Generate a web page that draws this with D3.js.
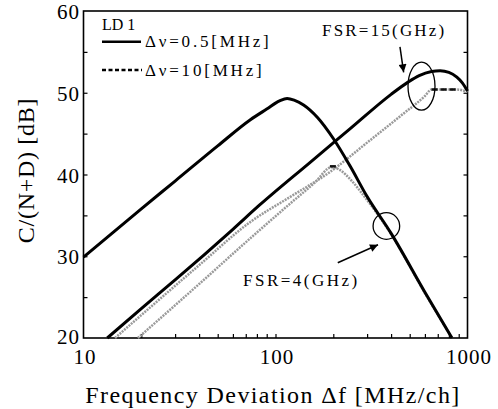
<!DOCTYPE html>
<html>
<head>
<meta charset="utf-8">
<script src="https://cdn.jsdelivr.net/npm/d3@7"></script>
<style>
  html, body { margin: 0; padding: 0; background: #fff; }
  svg { display: block; }
  svg text { font-family: "Liberation Serif", "Times New Roman", Times, "DejaVu Serif", serif; }
</style>
</head>
<body>
<svg id="chart" width="498" height="409"></svg>
<script>
// C/(N+D) versus frequency deviation, LD 1
// Δν = 0.5 MHz, FSR = 4 GHz
const a05Fsr4Freq = [10, 20, 30, 50, 74, 90, 105, 115, 125, 140, 165, 200, 245, 300, 400, 600, 830];
const a05Fsr4Cnd  = [29.9, 35.8, 39.2, 43.5, 46.7, 48.0, 49.0, 49.3, 49.1, 48.5, 47.0, 44.4, 41.0, 37.3, 32.8, 25.6, 20.0];
// Δν = 0.5 MHz, FSR = 15 GHz
const a05Fsr15Freq = [13.3, 20, 30, 60, 83, 150, 245, 400, 490, 560, 650, 720, 800, 880, 940, 1000];
const a05Fsr15Cnd  = [20.0, 23.6, 27.1, 33.3, 36.3, 41.4, 45.6, 49.8, 51.3, 52.1, 52.6, 52.7, 52.5, 51.9, 51.2, 50.2];
// Δν = 10 MHz, FSR = 15 GHz
const a10Fsr15Freq = [14.6, 20, 40, 74, 120, 192, 300, 450, 600, 650, 880, 1000];
const a10Fsr15Cnd  = [20.0, 22.8, 28.9, 34.2, 37.3, 40.3, 43.9, 47.2, 49.6, 50.4, 50.4, 50.1];
// Δν = 10 MHz, FSR = 4 GHz
const a10Fsr4Freq = [19.2, 40, 75.6, 120, 160, 196, 215, 250, 284, 320, 400, 600, 830];
const a10Fsr4Cnd  = [20.0, 26.6, 32.4, 36.5, 39.0, 40.9, 40.6, 39.2, 37.6, 36.0, 32.7, 25.5, 20.0];
// flat stretches printed in solid dashes on the Δν = 10 MHz curves
const flatFsr15Freq = [650, 880];
const flatFsr15Cnd  = [50.4, 50.4];
const flatFsr4Freq  = [192, 212];
const flatFsr4Cnd   = [41.0, 41.0];

// axes
const xDomain = [10, 1000];
const yDomain = [20, 60];
const xTickLabels = [10, 100, 1000];
const yTickLabels = [20, 30, 40, 50, 60];

const SERIF = "'Liberation Serif', 'Times New Roman', Times, 'DejaVu Serif', serif";
const svg = d3.select("#chart");
const mLeft = 83.5, mRight = 467.5, mTop = 11, mBottom = 338;

const x = d3.scaleLog().domain(xDomain).range([mLeft, mRight]);
const y = d3.scaleLinear().domain(yDomain).range([mBottom, mTop]);

const zip = (fs, vs) => fs.map((f, i) => [f, vs[i]]);
const line = d3.line().x(d => x(d[0])).y(d => y(d[1])).curve(d3.curveMonotoneX);
const straight = d3.line().x(d => x(d[0])).y(d => y(d[1]));

// minor ticks
const xMinor = [];
for (let dec = 10; dec < 1000; dec *= 10) for (let k = 2; k <= 9; k++) xMinor.push(k * dec);
const yMinor = d3.range(25, 60, 5);

const g = svg.append("g");
const txt = (sel) => sel.append("text").attr("font-family", SERIF).attr("fill", "#000");

// frame
g.append("rect")
  .attr("x", mLeft).attr("y", mTop)
  .attr("width", mRight - mLeft).attr("height", mBottom - mTop)
  .attr("fill", "none").attr("stroke", "#000").attr("stroke-width", 1.6);

// bottom axis: inward ticks
const xAxis = d3.axisBottom(x).tickValues(xMinor.concat([100])).tickSizeInner(-4).tickSizeOuter(0).tickFormat("");
g.append("g").attr("transform", `translate(0,${mBottom})`).call(xAxis)
  .call(s => s.select(".domain").remove())
  .call(s => s.selectAll("line").attr("stroke-width", 1.2));

// left and right axes: inward ticks
const yAxisL = d3.axisLeft(y).tickValues(yMinor).tickSizeInner(-4).tickSizeOuter(0).tickFormat("");
g.append("g").attr("transform", `translate(${mLeft},0)`).call(yAxisL)
  .call(s => s.select(".domain").remove())
  .call(s => s.selectAll("line").attr("stroke-width", 1.2));
const yAxisR = d3.axisRight(y).tickValues(yMinor).tickSizeInner(-4).tickSizeOuter(0).tickFormat("");
g.append("g").attr("transform", `translate(${mRight},0)`).call(yAxisR)
  .call(s => s.select(".domain").remove())
  .call(s => s.selectAll("line").attr("stroke-width", 1.2));

// tick labels
xTickLabels.forEach(d => {
  txt(g).attr("x", x(d) + 1.5).attr("y", 364)
    .attr("text-anchor", "middle")
    .attr("font-size", 21).attr("letter-spacing", 1)
    .text(d);
});
yTickLabels.forEach(d => {
  txt(g).attr("x", 80).attr("y", y(d) + (d === 20 ? 6 : 8))
    .attr("text-anchor", "end")
    .attr("font-size", 21).attr("letter-spacing", 1)
    .text(d);
});

// axis titles
txt(g)
  .attr("x", (mLeft + mRight) / 2 - 2.5).attr("y", 403)
  .attr("text-anchor", "middle").attr("font-size", 24).attr("letter-spacing", 1.4)
  .text("Frequency Deviation \u0394f [MHz/ch]");
txt(g)
  .attr("transform", `translate(34,${170.5}) rotate(-90)`)
  .attr("text-anchor", "middle").attr("font-size", 24).attr("letter-spacing", 0.7)
  .text("C/(N+D) [dB]");

// curves
const plot = g.append("g");
const gray = { stroke: "#9a9a9a", width: 2.5, dash: "2,1" };
[[a10Fsr15Freq, a10Fsr15Cnd], [a10Fsr4Freq, a10Fsr4Cnd]].forEach(([f, v]) => {
  plot.append("path").attr("d", line(zip(f, v)))
    .attr("fill", "none").attr("stroke", gray.stroke)
    .attr("stroke-width", gray.width).attr("stroke-dasharray", gray.dash);
});
[[flatFsr15Freq, flatFsr15Cnd], [flatFsr4Freq, flatFsr4Cnd]].forEach(([f, v]) => {
  plot.append("path").attr("d", straight(zip(f, v)))
    .attr("fill", "none").attr("stroke", "#111")
    .attr("stroke-width", 2.5).attr("stroke-dasharray", "6,3");
});
[[a05Fsr4Freq, a05Fsr4Cnd], [a05Fsr15Freq, a05Fsr15Cnd]].forEach(([f, v]) => {
  plot.append("path").attr("d", line(zip(f, v)))
    .attr("fill", "none").attr("stroke", "#000")
    .attr("stroke-width", 3).attr("stroke-linejoin", "round");
});

// legend
txt(g).attr("x", 102).attr("y", 30).attr("font-size", 16).text("LD 1");
g.append("line").attr("x1", 102).attr("x2", 141).attr("y1", 41.7).attr("y2", 41.7)
  .attr("stroke", "#000").attr("stroke-width", 2.5);
txt(g).attr("x", 145).attr("y", 47).attr("font-size", 17).attr("letter-spacing", 2.8)
  .text("\u0394\u03bd=0.5[MHz]");
g.append("line").attr("x1", 102).attr("x2", 142).attr("y1", 70).attr("y2", 70)
  .attr("stroke", "#000").attr("stroke-width", 2.5).attr("stroke-dasharray", "4,2.5");
txt(g).attr("x", 145).attr("y", 75.5).attr("font-size", 17).attr("letter-spacing", 2.8)
  .text("\u0394\u03bd=10[MHz]");

// annotations
svg.append("defs").append("marker")
  .attr("id", "head").attr("viewBox", "0 0 10 10")
  .attr("refX", 10).attr("refY", 5)
  .attr("markerWidth", 10).attr("markerHeight", 8)
  .attr("markerUnits", "userSpaceOnUse")
  .attr("orient", "auto")
  .append("path").attr("d", "M0,0 L10,5 L0,10 z").attr("fill", "#000");

txt(g).attr("x", 322).attr("y", 35.5).attr("font-size", 17).attr("letter-spacing", 2.2)
  .text("FSR=15(GHz)");
g.append("line")
  .attr("x1", x(445)).attr("y1", y(55.6)).attr("x2", x(465)).attr("y2", y(52.5))
  .attr("stroke", "#000").attr("stroke-width", 1.5).attr("marker-end", "url(#head)");
g.append("ellipse")
  .attr("cx", x(576)).attr("cy", y(50.8)).attr("rx", 13.5).attr("ry", 24)
  .attr("fill", "none").attr("stroke", "#000").attr("stroke-width", 1.3);

txt(g).attr("x", 243).attr("y", 286).attr("font-size", 17).attr("letter-spacing", 2.5)
  .text("FSR=4(GHz)");
g.append("line")
  .attr("x1", x(211)).attr("y1", y(29.2)).attr("x2", x(342)).attr("y2", y(31.4))
  .attr("stroke", "#000").attr("stroke-width", 1.5).attr("marker-end", "url(#head)");
g.append("circle")
  .attr("cx", x(378)).attr("cy", y(33.7)).attr("r", 13.3)
  .attr("fill", "none").attr("stroke", "#000").attr("stroke-width", 1.3);
</script>
</body>
</html>
